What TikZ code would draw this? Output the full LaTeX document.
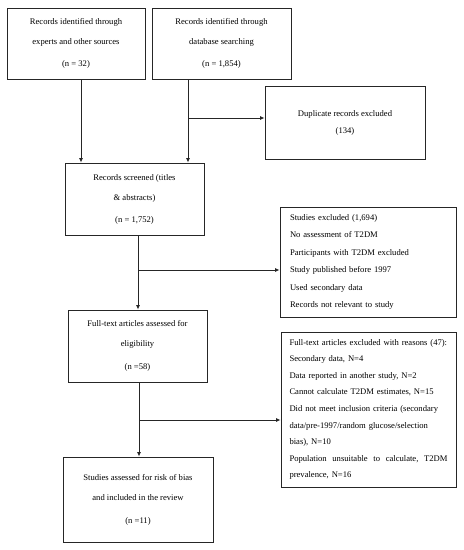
\documentclass[tikz,border=0pt]{standalone}
\usepackage{fontspec}
\setmainfont{Liberation Serif}
\usetikzlibrary{arrows.meta,calc}
\begin{document}
\begin{tikzpicture}[x=1pt,y=-1pt,
  box/.style={draw=black!85,line width=0.8pt,inner sep=0pt,align=center,font=\fontsize{8.6}{20}\selectfont},
  listbox/.style={draw=black!85,line width=0.8pt,inner xsep=10pt,inner ysep=0pt,align=left},
  arr/.style={draw=black!85,line width=0.9pt,-{Latex[length=4.5pt,width=4pt]}}]
\useasboundingbox (0,0) rectangle (464,550);
\node[box,minimum width=138pt,minimum height=71pt] (A) at (76,43.5)
  {Records identified through\\experts and other sources\\[2pt](n = 32)};
\node[box,minimum width=139pt,minimum height=71pt] (B) at (221.5,43.5)
  {Records identified through\\database searching\\[2pt](n = 1,854)};
\node[box,minimum width=160pt,minimum height=73pt,font=\fontsize{8.6}{17}\selectfont] (Dup) at (345,122.5)
  {Duplicate records excluded\\(134)};
\node[box,minimum width=139pt,minimum height=72pt] (C) at (134.5,199)
  {Records screened (titles\\\& abstracts)\\[2pt](n = 1,752)};
\node[listbox,minimum width=176pt,minimum height=110pt,text width=156pt,font=\fontsize{8.6}{17.4}\selectfont] (SE) at (368,262)
  {Studies excluded (1,694)\\No assessment of T2DM\\Participants with T2DM excluded\\Study published before 1997\\Used secondary data\\Records not relevant to study};
\node[box,minimum width=139pt,minimum height=72pt] (D) at (137.5,346)
  {Full-text articles assessed for\\eligibility\\[3pt](n =58)};
\node[listbox,minimum width=175pt,minimum height=155pt,inner xsep=8.5pt,text width=158pt,font=\fontsize{8.6}{16.6}\selectfont] (FE) at (368.5,409.5)
  {\mbox{Full-text articles excluded with reasons (47):}\\Secondary data, N=4\\Data reported in another study, N=2\\Cannot calculate T2DM estimates, N=15\\\mbox{Did not meet inclusion criteria (secondary}\\\mbox{data/pre-1997/random glucose/selection}\\bias), N=10\\\leavevmode\hbox to 158pt{Population\hfill unsuitable\hfill to\hfill calculate,\hfill T2DM}\\prevalence, N=16};
\node[box,minimum width=150pt,minimum height=85pt] (E) at (138,499.5)
  {Studies assessed for risk of bias\\and included in the review\\[3pt](n =11)};
\coordinate (xa) at (81,0);
\coordinate (j1) at (188,118);
\coordinate (j2) at (138,270);
\coordinate (j3) at (139,420);
\draw[arr] (A.south -| xa) -- (C.north -| xa);
\draw[arr] (B.south -| j1) -- (C.north -| j1);
\draw[arr] (j1) -- (j1 -| Dup.west);
\draw[arr] (C.south -| j2) -- (D.north -| j2);
\draw[arr] (j2) -- (j2 -| SE.west);
\draw[arr] (D.south -| j3) -- (E.north -| j3);
\draw[arr] (j3) -- (j3 -| FE.west);
\end{tikzpicture}
\end{document}
